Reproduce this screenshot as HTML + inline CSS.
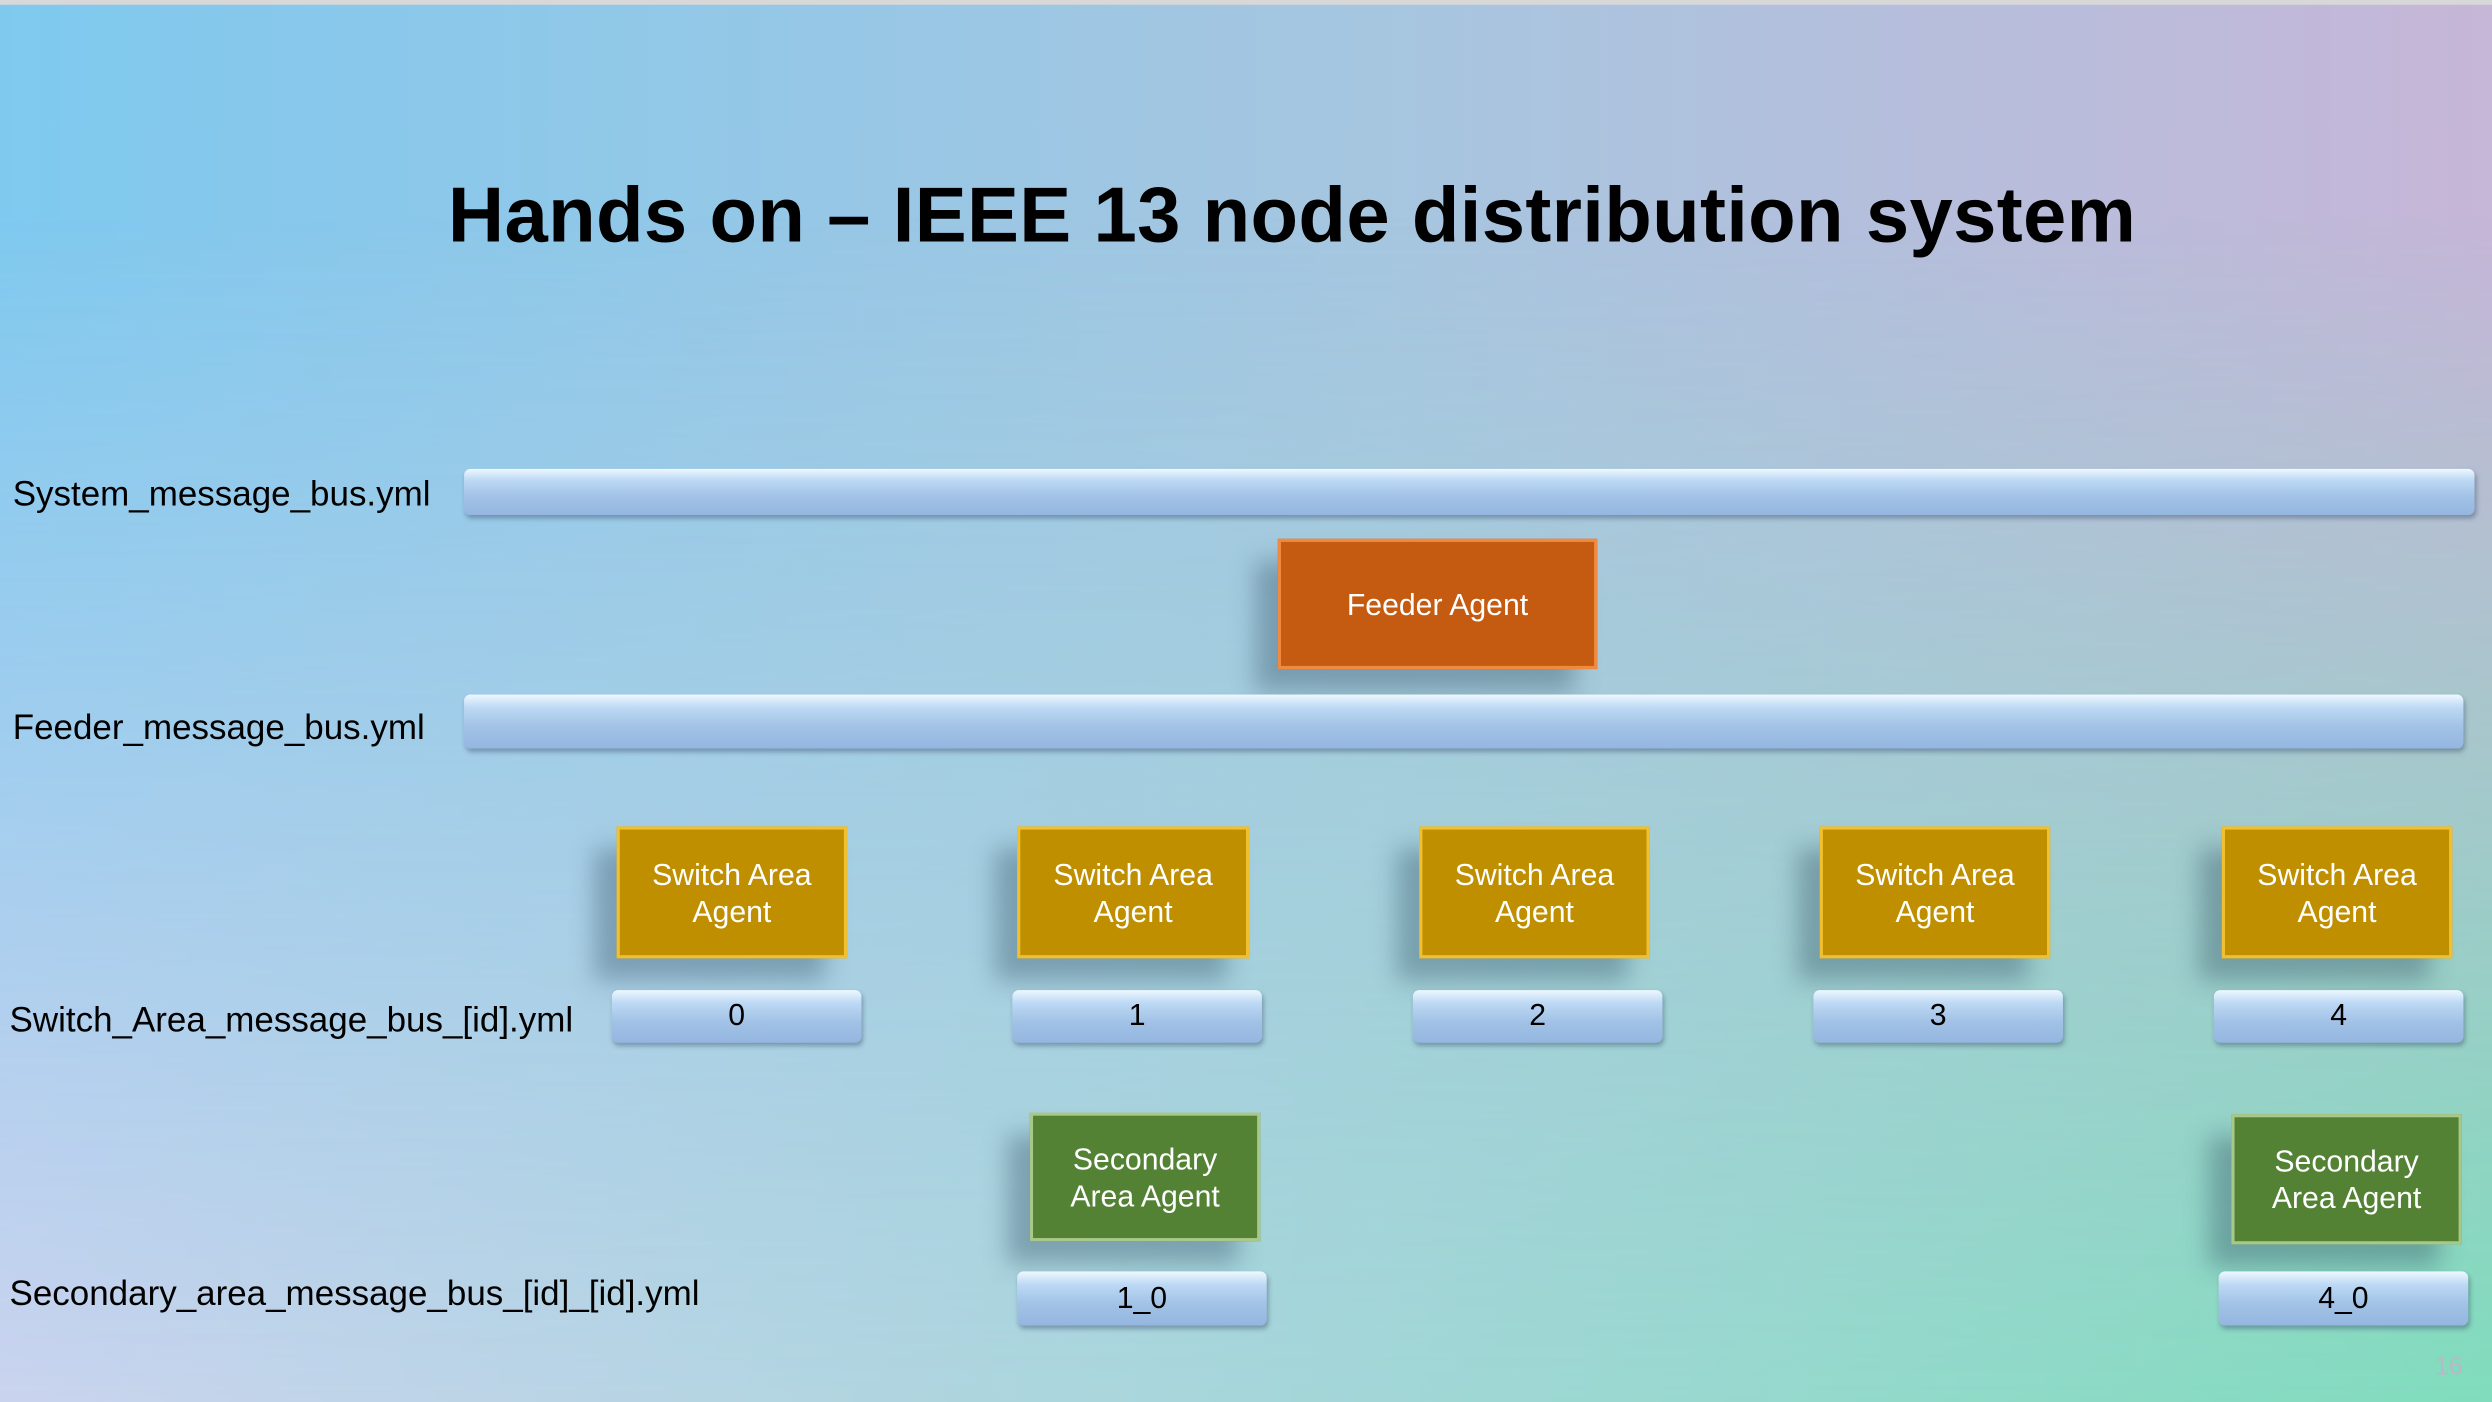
<!DOCTYPE html>
<html><head><meta charset="utf-8"><style>
html,body{margin:0;padding:0;width:2492px;height:1402px;overflow:hidden;}
#bg{position:absolute;left:0;top:0;width:2492px;height:1402px;background:linear-gradient(to right,#7fc9ef 0%,#a6c6e0 55%,#c6b6d8 100%);}
#bg2{position:absolute;left:0;top:0;width:2492px;height:1402px;background:linear-gradient(to right,#cad3ee 0%,#a6d6da 50%,#80dcbc 100%);-webkit-mask-image:linear-gradient(to bottom,transparent 15%,black 100%);mask-image:linear-gradient(to bottom,transparent 15%,black 100%);}
#w{position:absolute;left:0;top:0;width:1568px;height:882px;transform:scale(1.589286);transform-origin:0 0;font-family:"Liberation Sans",Arial,sans-serif;}
.top{position:absolute;left:0;top:0;width:1568px;height:3px;background:#d8d8d8;}
.t{position:absolute;left:0;width:1626px;text-align:center;top:108px;font-size:49px;letter-spacing:0.2px;font-weight:bold;color:#000;}
.lbl{position:absolute;left:8px;font-size:22px;color:#000;}
.bar{position:absolute;border-radius:4px;background:linear-gradient(to bottom,#eef8ff 0%,#bcd8f4 25%,#a2c2e6 60%,#94b6e0 100%);box-shadow:1px 2px 3px rgba(60,80,110,.45);text-align:center;font-size:19px;color:#000;}
.box{position:absolute;color:#fff;text-align:center;font-size:19px;line-height:23px;padding-top:2px;display:flex;align-items:center;justify-content:center;box-shadow:-14px 14px 14px rgba(40,70,90,.35);}
.sw{background:#bf8f00;border:2px solid #f0c030;box-sizing:border-box;}
.fa{background:#c55a11;border:2px solid #f08a40;box-sizing:border-box;}
.se{background:#548235;border:2px solid #a8c88a;box-sizing:border-box;}
</style></head><body>
<div id="bg"></div><div id="bg2"></div>
<div id="w">
<div class="top"></div>
<div class="t">Hands on – IEEE 13 node distribution system</div>
<div class="lbl" style="top:298px">System_message_bus.yml</div>
<div class="lbl" style="top:445px">Feeder_message_bus.yml</div>
<div class="lbl" style="left:6px;top:629px">Switch_Area_message_bus_[id].yml</div>
<div class="lbl" style="left:6px;top:801px">Secondary_area_message_bus_[id]_[id].yml</div>
<div class="bar" style="left:292px;top:295px;width:1265px;height:29px"></div>
<div class="box fa" style="left:804px;top:339px;width:201px;height:82px">Feeder Agent</div>
<div class="bar" style="left:292px;top:437px;width:1258px;height:34px"></div>

<div class="box sw" style="left:388px;top:520px;width:145px;height:83px">Switch Area<br>Agent</div>
<div class="box sw" style="left:640px;top:520px;width:146px;height:83px">Switch Area<br>Agent</div>
<div class="box sw" style="left:893px;top:520px;width:145px;height:83px">Switch Area<br>Agent</div>
<div class="box sw" style="left:1145px;top:520px;width:145px;height:83px">Switch Area<br>Agent</div>
<div class="box sw" style="left:1398px;top:520px;width:145px;height:83px">Switch Area<br>Agent</div>

<div class="bar" style="left:385px;top:623px;width:157px;height:33px;line-height:33px">0</div>
<div class="bar" style="left:637px;top:623px;width:157px;height:33px;line-height:33px">1</div>
<div class="bar" style="left:889px;top:623px;width:157px;height:33px;line-height:33px">2</div>
<div class="bar" style="left:1141px;top:623px;width:157px;height:33px;line-height:33px">3</div>
<div class="bar" style="left:1393px;top:623px;width:157px;height:33px;line-height:33px">4</div>

<div class="box se" style="left:648px;top:700px;width:145px;height:81px">Secondary<br>Area Agent</div>
<div class="box se" style="left:1404px;top:701px;width:145px;height:82px">Secondary<br>Area Agent</div>

<div class="bar" style="left:640px;top:800px;width:157px;height:34px;line-height:36px">1_0</div>
<div class="bar" style="left:1396px;top:800px;width:157px;height:34px;line-height:36px">4_0</div>
<div style="position:absolute;left:1532px;top:852px;font-size:16px;color:#b8b8c8">16</div>
</div>
</body></html>
